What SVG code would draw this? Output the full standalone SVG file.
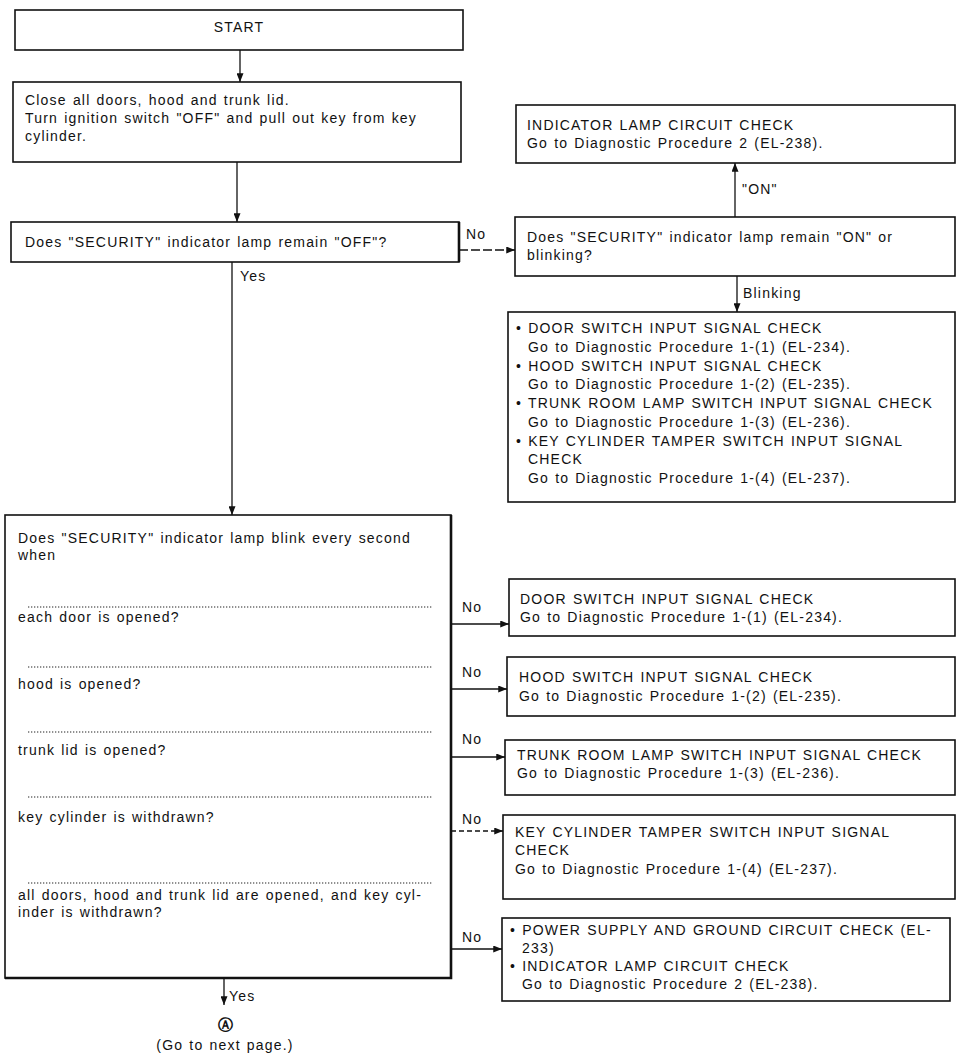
<svg xmlns="http://www.w3.org/2000/svg" width="957" height="1055" viewBox="0 0 957 1055">
<defs>
<style>
.box{fill:#fff;stroke:#111;stroke-width:1.6}
.heavy{fill:none;stroke:#111;stroke-width:2.6}
.t{font-family:"Liberation Sans",Arial,Helvetica,sans-serif;font-size:14px;letter-spacing:1.2px;word-spacing:1px;fill:#111}
.c{fill:none;stroke:#111;stroke-width:1.3}
.dash{stroke-dasharray:9 3}
.dot{fill:none;stroke:#222;stroke-width:1.1;stroke-dasharray:1.3 1.7}
</style>
<marker id="ah" viewBox="0 0 10 8" refX="10" refY="4" markerWidth="9" markerHeight="7" markerUnits="userSpaceOnUse" orient="auto"><path d="M0,0 L10,4 L0,8 z" fill="#111"/></marker>
</defs>
<rect width="957" height="1055" fill="#fff"/>

<g id="n-start">
<rect class="box" x="15" y="10" width="448" height="40"/>
<text class="t" x="239" y="32" text-anchor="middle">START</text>
</g>

<g id="n-close">
<rect class="box" x="13" y="82" width="448" height="80"/>
<text class="t" x="25" y="105">Close all doors, hood and trunk lid.</text>
<text class="t" x="25" y="123">Turn ignition switch "OFF" and pull out key from key</text>
<text class="t" x="25" y="141">cylinder.</text>
</g>

<g id="n-off">
<rect class="box" x="11" y="222" width="448" height="40"/>
<line class="heavy" x1="459" y1="222" x2="459" y2="262"/>
<text class="t" x="25" y="247">Does "SECURITY" indicator lamp remain "OFF"?</text>
</g>

<g id="n-indicator">
<rect class="box" x="516" y="105" width="439" height="58"/>
<text class="t" x="527" y="130">INDICATOR LAMP CIRCUIT CHECK</text>
<text class="t" x="527" y="148">Go to Diagnostic Procedure 2 (EL-238).</text>
</g>

<g id="n-onblink">
<rect class="box" x="515" y="217" width="440" height="59"/>
<text class="t" x="527" y="242">Does "SECURITY" indicator lamp remain "ON" or</text>
<text class="t" x="527" y="260">blinking?</text>
</g>

<g id="n-blinklist">
<rect class="box" x="508" y="312" width="447" height="190"/>
<text class="t" x="516" y="333">• DOOR SWITCH INPUT SIGNAL CHECK</text>
<text class="t" x="528" y="351.8">Go to Diagnostic Procedure 1-(1) (EL-234).</text>
<text class="t" x="516" y="370.5">• HOOD SWITCH INPUT SIGNAL CHECK</text>
<text class="t" x="528" y="389.3">Go to Diagnostic Procedure 1-(2) (EL-235).</text>
<text class="t" x="516" y="408">• TRUNK ROOM LAMP SWITCH INPUT SIGNAL CHECK</text>
<text class="t" x="528" y="426.8">Go to Diagnostic Procedure 1-(3) (EL-236).</text>
<text class="t" x="516" y="445.5">• KEY CYLINDER TAMPER SWITCH INPUT SIGNAL</text>
<text class="t" x="528" y="464.3">CHECK</text>
<text class="t" x="528" y="483">Go to Diagnostic Procedure 1-(4) (EL-237).</text>
</g>

<g id="n-blinkcheck">
<rect class="box" x="5" y="515" width="446" height="463"/>
<polyline class="heavy" points="451,515 451,978 5,978"/>
<text class="t" x="18" y="543">Does "SECURITY" indicator lamp blink every second</text>
<text class="t" x="18" y="560">when</text>
<line class="dot" x1="28" y1="607" x2="432" y2="607"/>
<text class="t" x="18" y="622">each door is opened?</text>
<line class="dot" x1="28" y1="667" x2="432" y2="667"/>
<text class="t" x="18" y="689">hood is opened?</text>
<line class="dot" x1="28" y1="732" x2="432" y2="732"/>
<text class="t" x="18" y="755">trunk lid is opened?</text>
<line class="dot" x1="28" y1="797" x2="432" y2="797"/>
<text class="t" x="18" y="822">key cylinder is withdrawn?</text>
<line class="dot" x1="28" y1="883" x2="432" y2="883"/>
<text class="t" x="18" y="900">all doors, hood and trunk lid are opened, and key cyl-</text>
<text class="t" x="18" y="917">inder is withdrawn?</text>
</g>

<g id="n-door">
<rect class="box" x="509" y="579" width="446" height="57"/>
<text class="t" x="520" y="604">DOOR SWITCH INPUT SIGNAL CHECK</text>
<text class="t" x="520" y="622">Go to Diagnostic Procedure 1-(1) (EL-234).</text>
</g>

<g id="n-hood">
<rect class="box" x="507" y="657" width="448" height="59"/>
<text class="t" x="519" y="682">HOOD SWITCH INPUT SIGNAL CHECK</text>
<text class="t" x="519" y="701">Go to Diagnostic Procedure 1-(2) (EL-235).</text>
</g>

<g id="n-trunk">
<rect class="box" x="505" y="740" width="450" height="55"/>
<text class="t" x="517" y="760">TRUNK ROOM LAMP SWITCH INPUT SIGNAL CHECK</text>
<text class="t" x="517" y="778">Go to Diagnostic Procedure 1-(3) (EL-236).</text>
</g>

<g id="n-key">
<rect class="box" x="503" y="815" width="452" height="84"/>
<text class="t" x="515" y="837">KEY CYLINDER TAMPER SWITCH INPUT SIGNAL</text>
<text class="t" x="515" y="855">CHECK</text>
<text class="t" x="515" y="874">Go to Diagnostic Procedure 1-(4) (EL-237).</text>
</g>

<g id="n-power">
<rect class="box" x="502" y="918" width="448" height="83"/>
<text class="t" x="510" y="935">• POWER SUPPLY AND GROUND CIRCUIT CHECK (EL-</text>
<text class="t" x="522" y="953">233)</text>
<text class="t" x="510" y="971">• INDICATOR LAMP CIRCUIT CHECK</text>
<text class="t" x="522" y="989">Go to Diagnostic Procedure 2 (EL-238).</text>
</g>

<g id="n-next">
<text x="225" y="1030" text-anchor="middle" style="font-family:'DejaVu Sans',sans-serif;font-size:15px;font-weight:bold;fill:#111">Ⓐ</text>
<text class="t" x="225" y="1050" text-anchor="middle">(Go to next page.)</text>
</g>

<g id="connectors">
<line class="c" x1="240" y1="50" x2="240" y2="82" marker-end="url(#ah)"/>
<line class="c" x1="237" y1="162" x2="237" y2="222" marker-end="url(#ah)"/>
<line class="c dash" x1="459" y1="250" x2="515" y2="250" marker-end="url(#ah)"/>
<text class="t" x="466" y="239">No</text>
<line class="c" x1="232" y1="262" x2="232" y2="515" marker-end="url(#ah)"/>
<text class="t" x="240" y="281">Yes</text>
<line class="c" x1="735" y1="217" x2="735" y2="163" marker-end="url(#ah)"/>
<text class="t" x="742" y="194">"ON"</text>
<line class="c" x1="737" y1="276" x2="737" y2="312" marker-end="url(#ah)"/>
<text class="t" x="743" y="298">Blinking</text>
<line class="c" x1="451" y1="624" x2="509" y2="624" marker-end="url(#ah)"/>
<text class="t" x="462" y="612">No</text>
<line class="c" x1="451" y1="689" x2="507" y2="689" marker-end="url(#ah)"/>
<text class="t" x="462" y="677">No</text>
<line class="c" x1="451" y1="757" x2="505" y2="757" marker-end="url(#ah)"/>
<text class="t" x="462" y="744">No</text>
<line class="c" x1="451" y1="831" x2="503" y2="831" stroke-dasharray="5 3" marker-end="url(#ah)"/>
<text class="t" x="462" y="824">No</text>
<line class="c" x1="451" y1="949" x2="502" y2="949" marker-end="url(#ah)"/>
<text class="t" x="462" y="942">No</text>
<line class="c" x1="224" y1="978" x2="224" y2="1005" marker-end="url(#ah)"/>
<text class="t" x="229" y="1001">Yes</text>
</g>
</svg>
